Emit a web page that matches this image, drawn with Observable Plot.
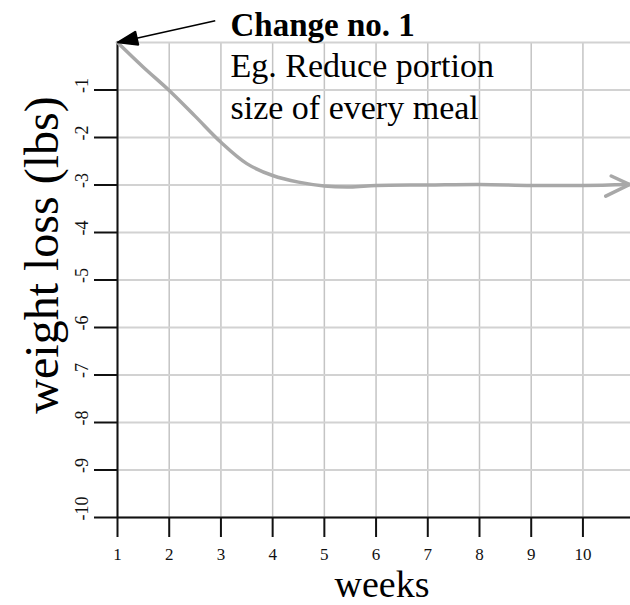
<!DOCTYPE html>
<html><head><meta charset="utf-8">
<script src="https://cdn.jsdelivr.net/npm/d3@7"></script>
<script src="https://cdn.jsdelivr.net/npm/@observablehq/plot@0.6"></script>
<style>body{margin:0;background:#fff}</style>
</head><body><div id="chart"></div>
<script>
// Data
const weeks = [1, 1.5, 2, 2.5, 3, 3.5, 4, 4.5, 5, 5.5, 6, 7, 8, 9, 10, 10.9];
const loss  = [0, -0.52, -1.01, -1.55, -2.1, -2.55, -2.8, -2.94, -3.02, -3.04, -3.01, -3.0, -2.99, -3.01, -3.01, -2.99];
const xTicks = [1, 2, 3, 4, 5, 6, 7, 8, 9, 10];
const yGrid = [0, -1, -2, -3, -4, -5, -6, -7, -8, -9, -10];
const yTicks = [-1, -2, -3, -4, -5, -6, -7, -8, -9, -10];
const xLabel = "weeks";
const yLabel = "weight loss (lbs)";
const noteTitle = "Change no. 1";
const noteLines = ["Eg. Reduce portion", "size of every meal"];
const noteArrowStart = {week: 2.89, loss: 0.46};

const data = weeks.map((w, i) => ({week: w, loss: loss[i]}));
const font = "'Liberation Serif', 'Times New Roman', serif";

function chevron(color) {
  const m = d3.create("svg:marker")
    .attr("viewBox", "-26 -14 30 28").attr("markerUnits", "userSpaceOnUse")
    .attr("markerWidth", 30).attr("markerHeight", 28).attr("orient", "auto")
    .attr("refX", 0).attr("refY", 0).attr("overflow", "visible");
  m.append("path").attr("d", "M-18,-9L0,0L-24,11")
    .attr("fill", "none").attr("stroke", color).attr("stroke-width", 3.5)
    .attr("stroke-linecap", "round").attr("stroke-linejoin", "round");
  return m.node();
}
function filledArrow(color) {
  const m = d3.create("svg:marker")
    .attr("viewBox", "-22 -10 24 20").attr("markerUnits", "userSpaceOnUse")
    .attr("markerWidth", 24).attr("markerHeight", 20).attr("orient", "auto")
    .attr("refX", 0).attr("refY", 0).attr("overflow", "visible");
  m.append("path").attr("d", "M-20,-7L0,0L-20,7Z").attr("fill", color);
  return m.node();
}

const plot = Plot.plot({
  width: 630, height: 605,
  marginLeft: 117, marginRight: 0, marginTop: 42, marginBottom: 88,
  style: {fontFamily: font, background: "white", color: "#111"},
  x: {domain: [1, 10.92], label: null},
  y: {domain: [-10, 0], label: null},
  marks: [
    Plot.gridX(xTicks, {stroke: "#c4c4c4", strokeOpacity: 1, strokeWidth: 1.5}),
    Plot.gridY(yGrid, {stroke: "#d2d2d2", strokeOpacity: 1, strokeWidth: 1.8}),
    Plot.ruleX([xTicks[0]], {stroke: "#111", strokeWidth: 2}),
    Plot.ruleY([yGrid[yGrid.length - 1]], {stroke: "#111", strokeWidth: 2}),
    Plot.axisX(xTicks, {tickSize: 20, tickPadding: 10, stroke: "#111", strokeWidth: 2,
      fontSize: 17, fill: "#111", label: null, tickFormat: d => String(d)}),
    // y tick marks only
    Plot.axisY(yTicks, {tickSize: 23, stroke: "#111", strokeWidth: 2, fill: "none",
      label: null, tickFormat: d => String(d)}),
    // y tick labels only, rotated
    Plot.axisY(yTicks, {tickSize: 0, tickPadding: 30, tickRotate: -90, textAnchor: "start", dy: 3,
      fontSize: 18, fill: "#111", label: null, tickFormat: d => String(d)}),
    Plot.line(data, {x: "week", y: "loss", curve: "catmull-rom", stroke: "#a8a8a8",
      strokeWidth: 3.5, strokeLinecap: "round", markerEnd: chevron}),
    Plot.link([noteArrowStart], {x1: "week", y1: "loss", x2: () => weeks[0], y2: () => loss[0],
      stroke: "#000", strokeWidth: 1.5, markerEnd: filledArrow}),
    Plot.text([noteTitle], {frameAnchor: "top-left", dx: 113, dy: -7, fontSize: 33,
      fontWeight: "bold", textAnchor: "start", lineAnchor: "bottom", fill: "#000"}),
    Plot.text([noteLines[0]], {frameAnchor: "top-left", dx: 113, dy: 34, fontSize: 34,
      textAnchor: "start", lineAnchor: "bottom", fill: "#000"}),
    Plot.text([noteLines[1]], {frameAnchor: "top-left", dx: 113, dy: 76, fontSize: 34,
      textAnchor: "start", lineAnchor: "bottom", fill: "#000"}),
    Plot.text([yLabel], {frameAnchor: "left", dx: -60, dy: -25, rotate: -90, fontSize: 48,
      textAnchor: "middle", lineAnchor: "bottom", fill: "#000"}),
    Plot.text([xLabel], {frameAnchor: "bottom", dx: 8, dy: 79.5, fontSize: 38,
      textAnchor: "middle", lineAnchor: "bottom", fill: "#000"})
  ]
});
document.getElementById("chart").appendChild(plot);
</script>
</body></html>
